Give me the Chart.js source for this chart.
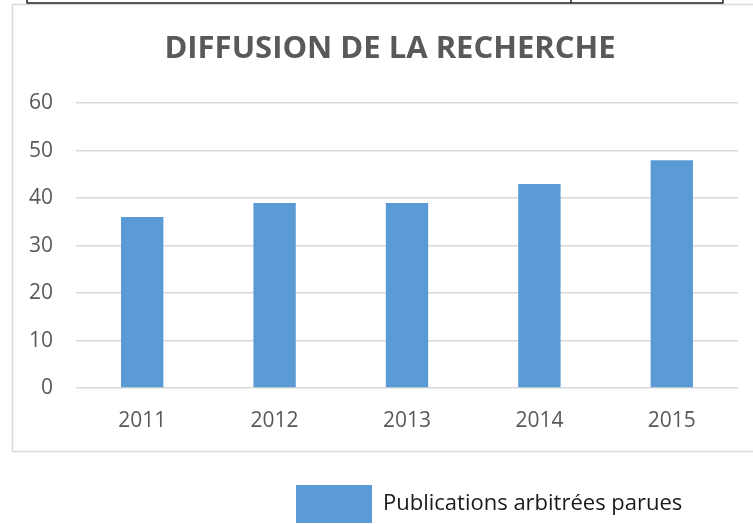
<!DOCTYPE html>
<html>
<head>
<meta charset="utf-8">
<script src="https://cdn.jsdelivr.net/npm/chart.js@4/dist/chart.umd.min.js"></script>
<style>
  html, body { margin: 0; padding: 0; background: #fff; }
  #wrap { width: 753px; height: 524px; }
</style>
</head>
<body>
<div id="wrap"><canvas id="chart" width="753" height="524"></canvas></div>
<script>
const years = ['2011', '2012', '2013', '2014', '2015'];
const publications = [36, 39, 39, 43, 48];
const seriesLabel = 'Publications arbitrées parues';
const chartTitle = 'DIFFUSION DE LA RECHERCHE';

// frame of the word-processor table and the chart box
const framePlugin = {
  id: 'frame',
  beforeDraw(chart) {
    const c = chart.ctx;
    c.save();
    c.strokeStyle = '#d9d9d9';
    c.lineWidth = 1.5;
    c.strokeRect(12.5, 4.5, 800, 447);
    c.strokeStyle = '#222';
    c.lineWidth = 1.5;
    c.beginPath();
    c.moveTo(27, 3); c.lineTo(723, 3);
    [27, 571, 723].forEach(x => { c.moveTo(x, 0); c.lineTo(x, 3.5); });
    c.stroke();
    c.restore();
  },
  afterLayout(chart) {
    // title centred on the box, legend below it to the right
    const t = chart.titleBlock;
    if (t) { t.left += 21; t.right += 21; }
    const lg = chart.legend;
    if (lg) {
      const pad = lg.options.labels.padding;
      const w = lg.width, h = lg.height;
      lg.left = 296 - pad; lg.right = lg.left + w;
      lg.top = 485 - pad; lg.bottom = lg.top + h;
    }
  }
};

new Chart(document.getElementById('chart'), {
  type: 'bar',
  data: {
    labels: years,
    datasets: [{
      label: seriesLabel,
      data: publications,
      backgroundColor: '#5b9bd5',
      borderWidth: 0,
      barPercentage: 0.32,
      categoryPercentage: 1
    }]
  },
  options: {
    responsive: false,
    animation: false,
    layout: { padding: { left: 0, right: 15, top: 0, bottom: 0 } },
    plugins: {
      title: {
        display: true,
        text: chartTitle,
        color: '#595959',
        font: { family: 'Open Sans', size: 31, weight: 'bold' },
        padding: { top: 31, bottom: 35 }
      },
      legend: {
        position: 'bottom',
        align: 'start',
        labels: {
          boxWidth: 76, boxHeight: 38, padding: 10,
          color: '#1a1a1a',
          font: { family: 'Open Sans', size: 22 }
        }
      },
      tooltip: { enabled: false }
    },
    scales: {
      x: {
        grid: { display: false, drawTicks: false },
        border: { display: false },
        ticks: { color: '#595959', padding: 20, font: { family: 'Open Sans', size: 21 } },
        afterFit(s) { s.height = 78; }
      },
      y: {
        min: 0, max: 60,
        grid: { color: '#d9d9d9', lineWidth: 1.5, drawTicks: false },
        border: { display: false },
        ticks: { stepSize: 10, color: '#595959', padding: 23, font: { family: 'Open Sans', size: 21 } },
        afterFit(s) { s.width = 76; }
      }
    }
  },
  plugins: [framePlugin]
});
</script>
</body>
</html>
